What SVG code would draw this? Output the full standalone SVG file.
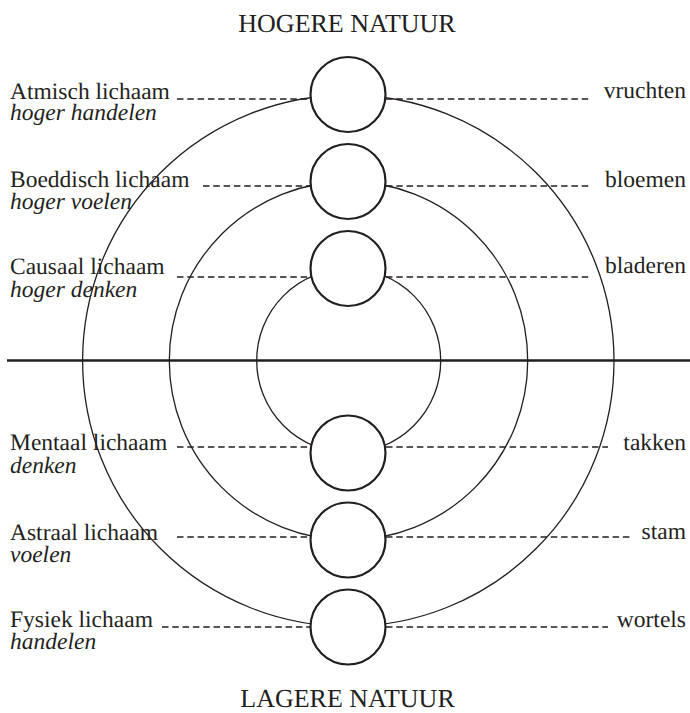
<svg xmlns="http://www.w3.org/2000/svg" width="690" height="713" viewBox="0 0 690 713">
<style>
text{font-family:"Liberation Serif","Times New Roman",serif;fill:#231f20;text-rendering:geometricPrecision}
.t{font-size:26px}
.l{font-size:23.5px}
.i{font-style:italic}
.r{text-anchor:end}
.big{fill:none;stroke:#231f20;stroke-width:1.3}
.node{fill:#fff;stroke:#231f20;stroke-width:2.2}
.dash{stroke:#231f20;stroke-width:1.5;stroke-dasharray:6.5 3.8;fill:none}
</style>
<rect width="690" height="713" fill="#fff"/>
<g id="rings">
<circle class="big" cx="348.3" cy="360.7" r="265.7"/>
<circle class="big" cx="348.5" cy="360.7" r="179.2"/>
<circle class="big" cx="348.7" cy="360.7" r="92"/>
<line x1="7" y1="360.5" x2="690" y2="360.5" stroke="#231f20" stroke-width="2.5"/>
</g>
<g id="connectors">
<line class="dash" x1="177" y1="99" x2="310" y2="99"/>
<line class="dash" x1="386" y1="99" x2="590" y2="99"/>
<line class="dash" x1="203" y1="186" x2="310" y2="186"/>
<line class="dash" x1="386" y1="186" x2="590" y2="186"/>
<line class="dash" x1="177" y1="277" x2="310" y2="277"/>
<line class="dash" x1="386" y1="277" x2="590" y2="277"/>
<line class="dash" x1="177" y1="447" x2="310" y2="447"/>
<line class="dash" x1="386" y1="447" x2="608" y2="447"/>
<line class="dash" x1="177" y1="537" x2="310" y2="537"/>
<line class="dash" x1="386" y1="537" x2="633" y2="537"/>
<line class="dash" x1="162" y1="627" x2="310" y2="627"/>
<line class="dash" x1="386" y1="627" x2="608" y2="627"/>
</g>
<g id="n1"><circle class="node" cx="348" cy="94.5" r="37.5"/></g>
<g id="n2"><circle class="node" cx="348" cy="181.5" r="37.5"/></g>
<g id="n3"><circle class="node" cx="348" cy="268.5" r="37.5"/></g>
<g id="n4"><circle class="node" cx="348" cy="453" r="37.5"/></g>
<g id="n5"><circle class="node" cx="348" cy="540" r="37.5"/></g>
<g id="n6"><circle class="node" cx="348" cy="627" r="37.5"/></g>
<g id="labels">
<text class="t" x="347" y="32" text-anchor="middle">HOGERE NATUUR</text>
<text class="t" x="347.5" y="707" text-anchor="middle">LAGERE NATUUR</text>
<text class="l" x="10" y="99">Atmisch lichaam</text>
<text class="l i" x="10" y="120">hoger handelen</text>
<text class="l" x="10" y="187">Boeddisch lichaam</text>
<text class="l i" x="10" y="209">hoger voelen</text>
<text class="l" x="10" y="274">Causaal lichaam</text>
<text class="l i" x="10" y="297">hoger denken</text>
<text class="l" x="10" y="450">Mentaal lichaam</text>
<text class="l i" x="10" y="473">denken</text>
<text class="l" x="10" y="540">Astraal lichaam</text>
<text class="l i" x="10" y="562">voelen</text>
<text class="l" x="10" y="627">Fysiek lichaam</text>
<text class="l i" x="10" y="649">handelen</text>
<text class="l r" x="686" y="98">vruchten</text>
<text class="l r" x="686" y="187">bloemen</text>
<text class="l r" x="686" y="273">bladeren</text>
<text class="l r" x="686" y="450">takken</text>
<text class="l r" x="686" y="539">stam</text>
<text class="l r" x="686" y="627">wortels</text>
</g>
</svg>
